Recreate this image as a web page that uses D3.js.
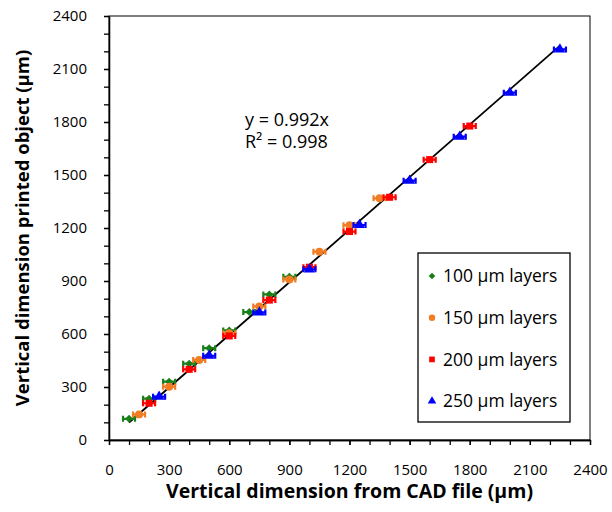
<!DOCTYPE html>
<html lang="en">
<head>
    <meta charset="UTF-8">
    <title>Printed vs CAD dimension</title>
    <script src="https://d3js.org/d3.v7.min.js"></script>
    <style>
        body { margin: 0; background: #fff; }
        text { font-family: "Open Sans", sans-serif; fill: #000; }
    </style>
</head>
<body>
<script>

    // data (µm)
    var layers = ['100 µm layers', '150 µm layers', '200 µm layers', '250 µm layers'];
    var colors = ['#1a7f1a', '#f07c24', '#ff0000', '#0000ff'];

    var cad100 = [100, 200, 300, 400, 500, 600, 700, 800, 900];
    var meas100 = [120, 234, 330, 432, 520, 620, 724, 824, 924];
    var cad150 = [150, 300, 450, 600, 750, 900, 1050, 1200, 1350];
    var meas150 = [145, 302, 453, 604, 756, 909, 1066, 1216, 1368];
    var cad200 = [200, 400, 600, 800, 1000, 1200, 1400, 1600, 1800];
    var meas200 = [208, 400, 589, 792, 978, 1180, 1374, 1587, 1777];
    var cad250 = [250, 500, 750, 1000, 1250, 1500, 1750, 2000, 2250];
    var meas250 = [245, 477, 722, 966, 1217, 1468, 1717, 1966, 2211];
    var errX = [30, 30, 30, 30];   // horizontal error bar half width per series

    var slope = 0.992;
    var majorTicks = [0, 300, 600, 900, 1200, 1500, 1800, 2100, 2400];
    var minorTicks = d3.range(0, 2401, 100);

    var series = [[cad100, meas100], [cad150, meas150], [cad200, meas200], [cad250, meas250]];

    // marker shapes: diamond is a square turned 45 degrees (d3's own diamond is too tall)
    var symbols = [d3.symbolSquare, d3.symbolCircle, d3.symbolSquare, d3.symbolTriangle];
    var turn = [45, 0, 0, 0];

    var svg = d3.select('body')
        .append('svg')
        .attr('width', 612)
        .attr('height', 512);

    var x = d3.scaleLinear().domain([0, 2400]).range([109, 590]);
    var y = d3.scaleLinear().domain([0, 2400]).range([440, 16]);

    // plot area border
    svg.append('rect')
        .attr('x', x(0)).attr('y', y(2400))
        .attr('width', x(2400) - x(0)).attr('height', y(0) - y(2400))
        .attr('fill', 'none').attr('stroke', '#000').attr('stroke-width', 1);

    // minor ticks
    svg.append('g')
        .attr('transform', 'translate(0,' + y(0) + ')')
        .call(d3.axisBottom(x).tickValues(minorTicks).tickSize(5).tickSizeOuter(0).tickFormat(''));
    svg.append('g')
        .attr('transform', 'translate(' + x(0) + ',0)')
        .call(d3.axisLeft(y).tickValues(minorTicks).tickSize(5).tickSizeOuter(0).tickFormat(''));

    // major ticks with labels
    svg.append('g')
        .attr('transform', 'translate(0,' + y(0) + ')')
        .call(d3.axisBottom(x).tickValues(majorTicks).tickSize(5).tickSizeOuter(0)
            .tickPadding(19).tickFormat(d3.format('d')));
    svg.append('g')
        .attr('transform', 'translate(' + x(0) + ',0)')
        .call(d3.axisLeft(y).tickValues(majorTicks).tickSize(5).tickSizeOuter(0)
            .tickPadding(17).tickFormat(d3.format('d')));

    svg.selectAll('.domain, .tick line').attr('stroke', '#000').attr('stroke-width', 1.3);
    svg.selectAll('.tick text').attr('font-size', 15).attr('font-family', '"Open Sans", sans-serif');

    // axis titles
    svg.append('text')
        .attr('x', (x(0) + x(2400)) / 2).attr('y', 498)
        .attr('text-anchor', 'middle')
        .attr('font-size', 19.5).attr('font-weight', 'bold')
        .text('Vertical dimension from CAD file (µm)');

    svg.append('text')
        .attr('transform', 'translate(29,' + (y(0) + y(2400)) / 2 + ') rotate(-90)')
        .attr('text-anchor', 'middle')
        .attr('font-size', 18.5).attr('font-weight', 'bold')
        .text('Vertical dimension printed object (µm)');

    // trendline y = 0.992x
    var allCad = d3.merge(series.map(function (s) { return s[0]; }));
    var x0 = d3.min(allCad), x1 = d3.max(allCad);
    svg.append('line')
        .attr('x1', x(x0)).attr('y1', y(slope * x0))
        .attr('x2', x(x1)).attr('y2', y(slope * x1))
        .attr('stroke', '#000').attr('stroke-width', 1.8);

    // points with horizontal error bars
    series.forEach(function (s, i) {
        var pts = s[0].map(function (c, j) { return {cad: c, meas: s[1][j]}; });
        var g = svg.append('g').attr('fill', colors[i]).attr('stroke', colors[i]);

        g.selectAll('.err')
            .data(pts).enter()
            .append('path')
            .attr('stroke-width', 2.2)
            .attr('fill', 'none')
            .attr('d', function (d) {
                var a = x(d.cad - errX[i]), b = x(d.cad + errX[i]), yy = y(d.meas);
                return 'M' + a + ',' + yy + 'H' + b +
                    'M' + a + ',' + (yy - 3) + 'V' + (yy + 3) +
                    'M' + b + ',' + (yy - 3) + 'V' + (yy + 3);
            });

        g.selectAll('.pt')
            .data(pts).enter()
            .append('path')
            .attr('stroke', 'none')
            .attr('transform', function (d) {
                return 'translate(' + x(d.cad) + ',' + y(d.meas) + ') rotate(' + turn[i] + ')';
            })
            .attr('d', d3.symbol().type(symbols[i]).size(i === 0 ? 32 : 50));
    });

    // equation
    svg.append('text').attr('x', 245).attr('y', 126).attr('font-size', 18).text('y = 0.992x');
    svg.append('text').attr('x', 245).attr('y', 148).attr('font-size', 18).text('R² = 0.998');

    // legend
    var legend = svg.append('g');
    legend.append('rect')
        .attr('x', 418).attr('y', 253).attr('width', 152).attr('height', 169)
        .attr('fill', '#fff').attr('stroke', '#000').attr('stroke-width', 1.3);

    layers.forEach(function (name, i) {
        var cy = 276 + i * 41.7;
        legend.append('path')
            .attr('transform', 'translate(432,' + cy + ') rotate(' + turn[i] + ')')
            .attr('fill', colors[i])
            .attr('d', d3.symbol().type(symbols[i]).size(i === 0 ? 22 : 32));
        legend.append('text')
            .attr('x', 443).attr('y', cy).attr('dy', '0.35em')
            .attr('font-size', 17.5)
            .text(name);
    });

</script>
</body>
</html>
